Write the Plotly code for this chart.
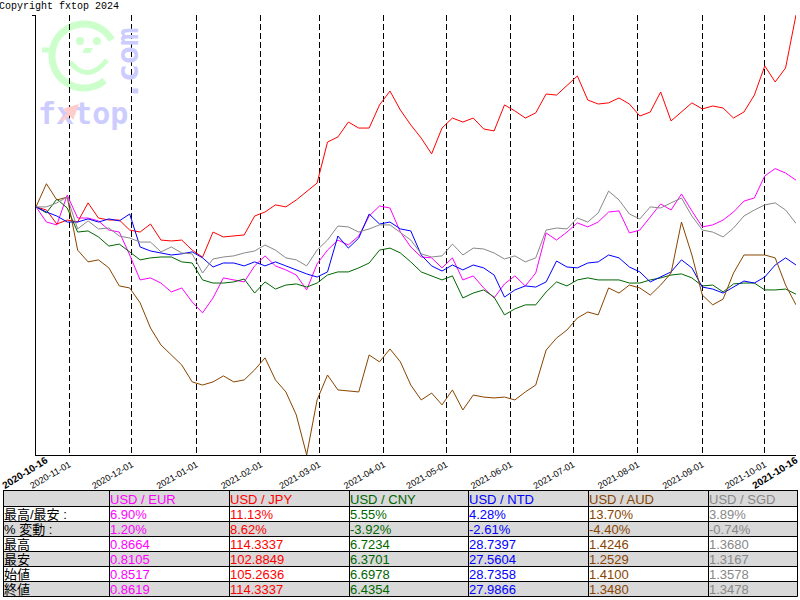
import numpy as np
import pandas as pd
import plotly.graph_objects as go

W, H = 800, 600

# ---------------- data (percent change vs. 2020-10-16, every 5 days) ----------------
start_date = "2020-10-16"
end_date = "2021-10-16"
n_points = 74

usd_eur = [0.00,-0.68,-0.81,0.53,-0.50,-0.50,-0.63,-1.04,-1.13,-2.16,
           -3.28,-3.19,-3.42,-3.82,-3.64,-4.27,-4.76,-4.09,-3.19,-3.28,
           -3.37,-2.65,-2.20,-2.65,-2.83,-3.06,-3.73,-2.56,-1.94,-1.49,
           -1.71,-1.31,-0.41,0.04,-0.05,-1.13,-1.80,-2.25,-2.29,-2.74,
           -2.29,-3.28,-3.10,-3.64,-4.09,-3.46,-3.10,-3.55,-2.97,-1.17,
           -1.49,-1.13,-0.72,-0.90,-0.68,-0.23,-0.18,-1.17,-1.04,-0.45,
           0.13,-0.14,0.58,-0.18,-0.90,-0.81,-0.59,-0.23,0.26,0.40,
           1.39,1.72,1.52,1.20]
usd_jpy = [0.00,-0.14,-0.77,-0.59,-0.68,0.18,-0.50,-0.59,-0.59,-1.04,
           -1.13,-0.77,-1.49,-1.53,-1.49,-1.94,-2.26,-1.13,-1.35,-1.31,
           -1.26,-0.41,-0.23,0.09,0.00,0.31,0.67,1.07,2.91,3.14,
           3.81,3.54,3.54,4.58,5.20,4.35,3.68,3.09,2.38,3.54,
           3.99,3.81,3.99,3.50,3.41,4.58,4.31,3.99,4.22,5.07,
           5.02,5.43,5.88,4.80,4.62,4.67,4.89,4.62,4.08,4.26,
           5.16,3.86,4.26,4.67,4.40,4.53,4.44,3.99,4.26,5.02,
           6.33,5.61,6.24,8.62]
usd_cny = [0.00,-0.27,0.35,-0.05,-1.13,-1.08,-1.35,-1.76,-1.67,-2.02,
           -2.38,-2.29,-2.25,-2.25,-2.47,-2.52,-3.28,-3.42,-3.42,-3.37,
           -3.24,-3.87,-3.37,-3.69,-3.51,-3.46,-3.60,-3.42,-3.06,-2.92,
           -2.92,-2.74,-2.52,-1.94,-1.85,-2.07,-2.47,-2.92,-3.10,-3.28,
           -3.10,-4.09,-3.87,-3.73,-4.05,-4.85,-4.58,-4.40,-4.40,-3.82,
           -3.37,-3.55,-3.28,-3.19,-3.28,-3.28,-3.28,-3.42,-3.42,-3.28,
           -3.19,-3.06,-3.01,-3.19,-3.55,-3.51,-3.82,-3.46,-3.42,-3.42,
           -3.73,-3.73,-3.69,-3.92]
usd_ntd = [0.00,-0.23,-0.41,-0.68,-0.68,-0.54,-0.68,-0.54,-0.63,-0.32,
           -1.80,-1.98,-2.07,-2.16,-2.11,-2.02,-2.29,-2.70,-2.52,-2.52,
           -2.65,-2.47,-2.65,-2.47,-2.65,-2.83,-3.01,-3.15,-2.92,-1.31,
           -1.85,-1.40,-0.32,-0.77,-0.68,-0.99,-1.08,-2.16,-2.65,-2.88,
           -2.61,-2.83,-2.61,-2.74,-3.06,-4.05,-3.73,-3.55,-3.60,-3.37,
           -2.43,-2.70,-2.74,-2.52,-2.47,-2.16,-2.29,-2.70,-2.92,-3.37,
           -3.15,-2.92,-2.38,-2.74,-3.60,-3.69,-3.87,-3.60,-3.33,-3.42,
           -3.15,-2.61,-2.29,-2.61]
usd_aud = [0.00,1.04,0.31,0.44,-1.94,-2.47,-2.38,-2.74,-3.55,-3.64,
           -4.31,-5.44,-6.20,-6.65,-7.10,-7.86,-8.00,-7.86,-7.59,-7.86,
           -7.77,-7.32,-6.78,-7.77,-8.31,-9.34,-11.14,-8.67,-7.55,-8.22,
           -8.27,-8.31,-6.65,-6.96,-6.38,-6.96,-8.00,-8.67,-8.36,-8.89,
           -8.22,-9.12,-8.45,-8.54,-8.58,-8.54,-8.67,-8.31,-8.00,-6.43,
           -5.89,-5.53,-4.99,-4.72,-4.85,-3.64,-3.87,-3.51,-3.64,-3.96,
           -3.51,-2.97,-0.68,-2.16,-3.96,-4.40,-4.14,-2.97,-2.16,-2.16,
           -2.16,-2.29,-3.51,-4.40]
usd_sgd = [0.00,0.00,0.18,0.44,-0.99,-0.63,-0.99,-0.95,-1.31,-1.40,
           -1.58,-1.58,-2.02,-1.80,-2.07,-2.11,-2.97,-2.34,-2.25,-2.20,
           -2.07,-1.98,-1.71,-1.94,-2.29,-2.38,-2.65,-1.94,-1.49,-0.86,
           -0.90,-1.13,-0.99,-0.81,-0.81,-1.13,-1.49,-2.11,-2.25,-2.20,
           -1.67,-2.16,-1.85,-1.89,-2.07,-2.34,-2.20,-2.47,-2.29,-1.04,
           -0.95,-0.99,-0.50,-0.68,-0.27,0.71,0.31,-0.32,-0.54,0.00,
           -0.05,0.18,0.40,-0.41,-1.04,-1.13,-1.35,-0.95,-0.41,-0.14,
           0.09,0.18,-0.14,-0.74]

pairs = ["USD / EUR", "USD / JPY", "USD / CNY", "USD / NTD", "USD / AUD", "USD / SGD"]
series = [usd_eur, usd_jpy, usd_cny, usd_ntd, usd_aud, usd_sgd]
colors = ["#ff00ff", "#ff0000", "#006600", "#0000ff", "#884400", "#888888"]

row_labels = ["最高/最安 :", "% 変動 :", "最高", "最安", "始値", "終値"]
hilo = ["6.90%", "11.13%", "5.55%", "4.28%", "13.70%", "3.89%"]
change = ["1.20%", "8.62%", "-3.92%", "-2.61%", "-4.40%", "-0.74%"]
highs = ["0.8664", "114.3337", "6.7234", "28.7397", "1.4246", "1.3680"]
lows = ["0.8105", "102.8849", "6.3701", "27.5604", "1.2529", "1.3167"]
opens = ["0.8517", "105.2636", "6.6978", "28.7358", "1.4100", "1.3578"]
closes = ["0.8619", "114.3337", "6.4354", "27.9866", "1.3480", "1.3478"]

month_ticks = ["2020-11-01", "2020-12-01", "2021-01-01", "2021-02-01", "2021-03-01",
               "2021-04-01", "2021-05-01", "2021-06-01", "2021-07-01", "2021-08-01",
               "2021-09-01", "2021-10-01"]

y_min, y_max = -11.142, 8.617

# ---------------- figure ----------------
dates = pd.date_range(start_date, periods=n_points, freq="5D")

fig = go.Figure()
for name, vals, col in zip(pairs, series, colors):
    fig.add_trace(go.Scatter(x=dates, y=vals, mode="lines", name=name,
                             line=dict(color=col, width=1), showlegend=False,
                             hoverinfo="skip"))

def px(x):
    return x / W

def py(y):
    return 1 - y / H

shapes = []
annotations = []

# ---------------- table below the chart ----------------
col_edges = [3, 109, 229, 349, 468, 588, 708, 797]
row_edges = [490, 506, 521, 536, 551, 566, 581, 596]
table_rows = [[""] + pairs] + [
    [row_labels[i]] + [col[j] for j in range(len(pairs))]
    for i, col in enumerate([hilo, change, highs, lows, opens, closes])
]
row_fill = ["#d9d9d9", "white", "#d9d9d9", "white", "#d9d9d9", "white", "#d9d9d9"]
text_colors = ["black"] + colors
tfont = "Liberation Sans, Arial, Noto Sans CJK JP"

for r in range(len(table_rows)):
    shapes.append(dict(type="rect", xref="paper", yref="paper", layer="below",
                       x0=px(col_edges[0]), x1=px(col_edges[-1]),
                       y0=py(row_edges[r]), y1=py(row_edges[r + 1]),
                       fillcolor=row_fill[r], line=dict(width=0)))
for yb in row_edges:
    shapes.append(dict(type="line", xref="paper", yref="paper",
                       x0=px(col_edges[0]), x1=px(col_edges[-1] + 0.5),
                       y0=py(yb + 0.5), y1=py(yb + 0.5),
                       line=dict(color="black", width=1)))
for xb in col_edges:
    shapes.append(dict(type="line", xref="paper", yref="paper",
                       x0=px(xb + 0.5), x1=px(xb + 0.5),
                       y0=py(row_edges[0]), y1=py(row_edges[-1] + 0.5),
                       line=dict(color="black", width=1)))
for r, row in enumerate(table_rows):
    yc = (row_edges[r] + row_edges[r + 1]) / 2 + 1
    for c, txt in enumerate(row):
        if not txt:
            continue
        annotations.append(dict(text=txt, x=px(col_edges[c] - 1), y=py(yc),
                                xref="paper", yref="paper", xanchor="left",
                                yanchor="middle", showarrow=False,
                                font=dict(family=tfont, size=13, color=text_colors[c])))

# ---------------- logo (decoration) ----------------
cx, cy, r = 84, 56, 32
t = np.radians(np.linspace(30, 310, 60))
ring_x = cx + r * np.cos(t)
ring_y = cy - r * np.sin(t)
ring_path = "M " + " L ".join(f"{px(a):.5f},{py(b):.5f}" for a, b in zip(ring_x, ring_y))
green = "#ccffcc"
shapes += [
    dict(type="path", path=ring_path, xref="paper", yref="paper",
         line=dict(color=green, width=7), layer="below"),
    dict(type="line", xref="paper", yref="paper", x0=px(42), y0=py(50), x1=px(56), y1=py(50),
         line=dict(color=green, width=5), layer="below"),
    dict(type="path", xref="paper", yref="paper",
         path=f"M {px(70)},{py(62)} Q {px(88)},{py(84)} {px(107)},{py(60)}",
         line=dict(color=green, width=5), layer="below"),
    dict(type="circle", xref="paper", yref="paper", x0=px(76), x1=px(84), y0=py(45), y1=py(37),
         fillcolor=green, line=dict(width=0), layer="below"),
    dict(type="circle", xref="paper", yref="paper", x0=px(93), x1=px(101), y0=py(45), y1=py(37),
         fillcolor=green, line=dict(width=0), layer="below"),
    dict(type="path", xref="paper", yref="paper",
         path=f"M {px(85)},{py(48)} L {px(93)},{py(48)} L {px(90)},{py(53)} L {px(82)},{py(53)} Z",
         fillcolor=green, line=dict(width=0), layer="below"),
]

annotations += [
    dict(text="Copyright fxtop 2024", x=px(-3), y=py(-1), xref="paper", yref="paper",
         xanchor="left", yanchor="top", showarrow=False,
         font=dict(family="Liberation Mono", size=10, color="black")),
    dict(text="<b>fxtop</b>", x=px(36), y=py(114), xref="paper", yref="paper",
         xanchor="left", yanchor="middle", showarrow=False,
         font=dict(family="DejaVu Sans Mono", size=30, color="#ccccff")),
    dict(text="<b>.com</b>", x=px(127), y=py(64), xref="paper", yref="paper",
         xanchor="center", yanchor="middle", showarrow=False, textangle=-90,
         font=dict(family="DejaVu Sans Mono", size=30, color="#ccccff")),
    dict(text="", x=px(79), y=py(104), xref="paper", yref="paper",
         ax=-19, ay=18, showarrow=True, arrowhead=2, arrowsize=1, arrowwidth=3,
         arrowcolor="#ffcccc"),
    dict(text=f"<b>{start_date}</b>", x=px(25), y=py(472), xref="paper", yref="paper",
         xanchor="center", yanchor="middle", showarrow=False, textangle=-32,
         font=dict(family="Liberation Sans", size=10, color="black")),
    dict(text=f"<b>{end_date}</b>", x=px(775), y=py(472), xref="paper", yref="paper",
         xanchor="center", yanchor="middle", showarrow=False, textangle=-32,
         font=dict(family="Liberation Sans", size=10, color="black")),
]

fig.update_layout(
    width=W, height=H,
    margin=dict(l=0, r=0, t=0, b=0, pad=0),
    paper_bgcolor="white", plot_bgcolor="white",
    showlegend=False,
    shapes=shapes, annotations=annotations,
    xaxis=dict(domain=[px(36), px(796)], range=[start_date, end_date],
               tickvals=month_ticks, ticktext=month_ticks, tickangle=-30,
               tickfont=dict(family="Liberation Sans", size=9, color="black"),
               showgrid=True, gridcolor="black", gridwidth=1, griddash="6px,3px",
               showline=True, linecolor="black", linewidth=1, zeroline=False,
               ticks="", fixedrange=True, automargin=False),
    yaxis=dict(domain=[py(455), py(15)], range=[y_min, y_max],
               showgrid=False, zeroline=False, showline=True, linecolor="black",
               linewidth=1, showticklabels=False, tickvals=[y_max], ticks="outside",
               ticklen=3, tickcolor="black", fixedrange=True, automargin=False),
)

fig.write_html("out.html")
